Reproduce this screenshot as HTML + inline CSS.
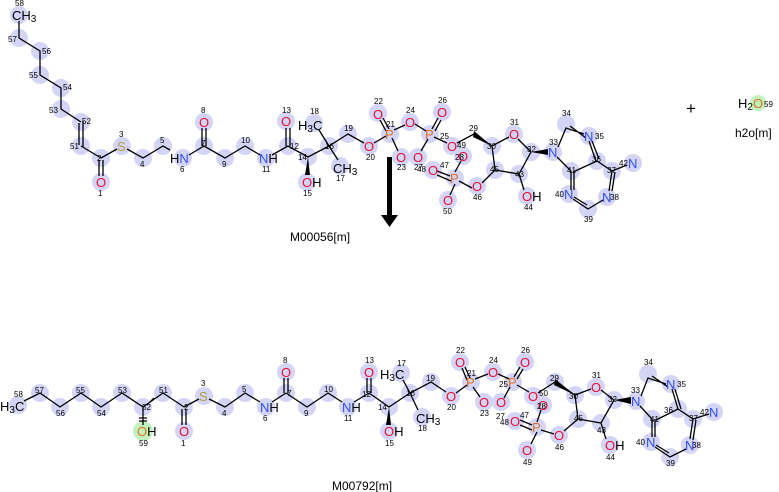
<!DOCTYPE html>
<html><head><meta charset="utf-8"><style>
html,body{margin:0;padding:0;background:#fff;}
svg{display:block;font-family:"Liberation Sans","DejaVu Sans",sans-serif;}
.c{fill:#d4d4f7;}
.g{fill:#c2f2bd;}
.b{stroke:#000;stroke-width:1.3;fill:none;}
.O{fill:#e8102f;font-size:13px;}
.N{fill:#3050f8;font-size:13px;}
.S{fill:#b0a040;font-size:13px;}
.P{fill:#e07020;font-size:13px;}
.K{fill:#000;font-size:13px;}
.n{fill:#000;font-size:8px;}
.m{fill:#000;font-size:8px;}
.l{fill:#000;font-size:12px;}
</style></head><body>
<svg width="779" height="492" viewBox="0 0 779 492" xmlns="http://www.w3.org/2000/svg">
<!-- TOP circles -->
<g class="c">
<circle cx="19" cy="15" r="9"/><circle cx="19" cy="38" r="9"/><circle cx="40" cy="51" r="9"/><circle cx="40" cy="75" r="9"/>
<circle cx="61" cy="88" r="9"/><circle cx="61" cy="109" r="9"/><circle cx="81" cy="122" r="9"/><circle cx="81" cy="146" r="9"/>
<circle cx="101" cy="158" r="9"/><circle cx="101" cy="182" r="9"/><circle cx="122" cy="146" r="9"/><circle cx="143" cy="158" r="9"/>
<circle cx="163" cy="146" r="9"/><circle cx="183" cy="158" r="9"/><circle cx="204" cy="122" r="9"/><circle cx="225" cy="158" r="9"/>
<circle cx="245" cy="146" r="9"/><circle cx="266" cy="158" r="9"/><circle cx="286" cy="121" r="9"/><circle cx="288" cy="146" r="9"/>
<circle cx="308" cy="157" r="9"/><circle cx="307" cy="182" r="9"/><circle cx="329" cy="146" r="9"/><circle cx="314" cy="123" r="9"/>
<circle cx="340" cy="166" r="9"/><circle cx="348" cy="134" r="9"/><circle cx="369" cy="146" r="9"/><circle cx="378" cy="113" r="9"/>
<circle cx="390" cy="134" r="9"/><circle cx="401" cy="157" r="9"/><circle cx="410" cy="122" r="9"/><circle cx="430" cy="134" r="9"/>
<circle cx="442" cy="112" r="9"/><circle cx="418" cy="157" r="9"/><circle cx="452" cy="146" r="9"/><circle cx="463" cy="156" r="9"/>
<circle cx="433" cy="170" r="9"/><circle cx="455" cy="178" r="9"/><circle cx="448" cy="200" r="9"/><circle cx="477" cy="186" r="9"/>
<circle cx="492" cy="146" r="9"/><circle cx="514" cy="134" r="9"/><circle cx="531" cy="152" r="9"/><circle cx="495" cy="170" r="9"/>
<circle cx="519" cy="174" r="9"/><circle cx="527" cy="196" r="9"/><circle cx="553" cy="152" r="9"/><circle cx="566" cy="124" r="9"/>
<circle cx="589" cy="136" r="9"/><circle cx="597" cy="161" r="9"/><circle cx="571" cy="171" r="9"/><circle cx="612" cy="171" r="9"/>
<circle cx="633" cy="163" r="9"/><circle cx="607" cy="197" r="9"/><circle cx="588" cy="209" r="9"/><circle cx="569" cy="194" r="9"/>
<circle cx="204" cy="146" r="9"/>
</g>
<path class="b" d="M19 21L19 38L40 51L40 75L61 88L61 109L81 122M79 123L79 145M83 121L83 147M81 146L101 158M99 160L99 176M103 160L103 176M101 158L117 149M127 149L143 158L163 146L170 150M189 155L204 146L225 158L245 146L260 155M202 146L202 128M206 146L206 128M272 155L288 146M286 146L286 128M290 146L290 128M288 146L308 157L329 146L348 134L364 143M329 146L319 130M329 146L338 160M374 143L386 136M386 131L380 120M389 129L383 118M392 138L398 151M394 130L405 125M415 124L426 131M432 129L438 118M435 131L441 120M428 139L421 151M434 137L447 143M457 143L474 134L492 146L509 137M518 139L531 152L519 174L495 170L492 146M519 174L524 190M495 170L482 183M472 188L459 181M455 172L461 161M450 176L437 171M451 181L437 175M455 184L450 195M536 152L548 152M558 147L566 128L584 134M570 126L586 138M589 141L596 161M592 141L599 159M597 161L573 172M557 157L571 171M571 171L571 190M574 171L574 190M597 161L612 171L627 165M612 171L609 191M615 172L612 191M603 200L588 209L573 199M587 205L574 197"/>
<polygon points="492,146 474,131 473,137" fill="#000"/>
<polygon points="308,157 305,175 310,175" fill="#000"/>
<polygon points="531,152 548,149 548,155" fill="#000"/>
<!-- top text -->
<text x="12" y="20" class="K">CH<tspan font-size="10" dy="2">3</tspan></text>
<text x="96" y="187" class="O">O</text><text x="117" y="151" class="S">S</text>
<text x="170" y="163" class="K">H<tspan fill="#3050f8">N</tspan></text>
<text x="199" y="127" class="O">O</text><text x="259" y="163" class="N">N<tspan fill="#000">H</tspan></text>
<text x="281" y="126" class="O">O</text><text x="302" y="187" class="O">O<tspan fill="#000">H</tspan></text>
<text x="298" y="130" class="K">H<tspan font-size="10" dy="2">3</tspan><tspan dy="-2">C</tspan></text>
<text x="333" y="173" class="K">CH<tspan font-size="10" dy="2">3</tspan></text>
<text x="364" y="151" class="O">O</text><text x="385" y="139" class="P">P</text><text x="373" y="119" class="O">O</text>
<text x="396" y="162" class="O">O</text><text x="405" y="127" class="O">O</text><text x="425" y="139" class="P">P</text>
<text x="437" y="117" class="O">O</text><text x="413" y="162" class="O">O</text><text x="447" y="151" class="O">O</text>
<text x="458" y="161" class="O">O</text><text x="428" y="175" class="O">O</text><text x="450" y="183" class="P">P</text>
<text x="443" y="205" class="O">O</text><text x="472" y="191" class="O">O</text><text x="509" y="139" class="O">O</text>
<text x="522" y="201" class="O">O<tspan fill="#000">H</tspan></text>
<text x="548" y="157" class="N">N</text><text x="584" y="141" class="N">N</text><text x="628" y="168" class="N">N</text>
<text x="602" y="202" class="N">N</text><text x="564" y="199" class="N">N</text>
<g class="n">
<text x="15" y="6">58</text><text x="8" y="42">57</text><text x="42" y="54">56</text><text x="29" y="78">55</text>
<text x="63" y="90">54</text><text x="49" y="113">53</text><text x="82" y="124">52</text><text x="70" y="149">51</text>
<text x="97" y="161">2</text><text x="98" y="196">1</text><text x="119" y="137">3</text><text x="140" y="167">4</text>
<text x="160" y="143">5</text><text x="180" y="172">6</text><text x="201" y="113">8</text><text x="201" y="146">7</text>
<text x="222" y="167">9</text><text x="241" y="143">10</text><text x="262" y="172">11</text><text x="282" y="113">13</text>
<text x="290" y="149">12</text><text x="298" y="160">14</text><text x="303" y="196">15</text><text x="310" y="114">18</text>
<text x="325" y="149">16</text><text x="336" y="181">17</text><text x="344" y="131">19</text><text x="366" y="160">20</text>
<text x="374" y="104">22</text><text x="386" y="127">21</text><text x="397" y="170">23</text><text x="406" y="113">24</text>
<text x="438" y="103">26</text><text x="440" y="139">25</text><text x="414" y="170">27</text><text x="457" y="148">49</text>
<text x="455" y="160">28</text><text x="417" y="172">48</text><text x="440" y="168">47</text><text x="443" y="214">50</text>
<text x="473" y="200">46</text><text x="469" y="131">29</text><text x="487" y="149">30</text><text x="510" y="125">31</text>
<text x="527" y="152">32</text><text x="490" y="172">45</text><text x="515" y="177">43</text><text x="524" y="210">44</text>
<text x="549" y="145">33</text><text x="562" y="116">34</text><text x="595" y="139">35</text><text x="592" y="162">36</text>
<text x="567" y="173">41</text><text x="607" y="173">37</text><text x="619" y="166">42</text><text x="610" y="200">38</text>
<text x="584" y="222">39</text><text x="555" y="197">40</text>
</g>
<!-- arrow -->
<rect x="387" y="157" width="5" height="59" fill="#000"/>
<polygon points="381,215 398,215 389.5,227" fill="#000"/>
<text x="290" y="241" class="l">M00056[m]</text>
<text x="686" y="114" font-size="17" fill="#000">+</text>
<circle cx="758" cy="103" r="8" class="g"/>
<text x="738" y="108" class="K">H<tspan font-size="10" dy="2">2</tspan><tspan dy="-2" fill="#e07020">O</tspan></text>
<text x="764" y="107" class="m">59</text>
<text x="735" y="137" class="l">h2o[m]</text>

<!-- BOTTOM -->
<g class="c">
<circle cx="18" cy="405" r="9"/><circle cx="40" cy="393" r="9"/><circle cx="60" cy="407" r="9"/><circle cx="81" cy="393" r="9"/>
<circle cx="101" cy="407" r="9"/><circle cx="122" cy="393" r="9"/><circle cx="143" cy="407" r="9"/><circle cx="163" cy="393" r="9"/>
<circle cx="184" cy="407" r="9"/><circle cx="184" cy="431" r="9"/><circle cx="204" cy="396" r="9"/><circle cx="225" cy="407" r="9"/>
<circle cx="245" cy="393" r="9"/><circle cx="266" cy="407" r="9"/><circle cx="286" cy="372" r="9"/><circle cx="307" cy="407" r="9"/>
<circle cx="328" cy="393" r="9"/><circle cx="348" cy="407" r="9"/><circle cx="369" cy="372" r="9"/><circle cx="369" cy="393" r="9"/>
<circle cx="389" cy="407" r="9"/><circle cx="389" cy="431" r="9"/><circle cx="410" cy="393" r="9"/><circle cx="401" cy="373" r="9"/>
<circle cx="422" cy="417" r="9"/><circle cx="431" cy="382" r="9"/><circle cx="451" cy="396" r="9"/><circle cx="460" cy="362" r="9"/>
<circle cx="471" cy="382" r="9"/><circle cx="484" cy="402" r="9"/><circle cx="493" cy="372" r="9"/><circle cx="513" cy="382" r="9"/>
<circle cx="525" cy="362" r="9"/><circle cx="501" cy="402" r="9"/><circle cx="533" cy="396" r="9"/><circle cx="543" cy="405" r="9"/>
<circle cx="515" cy="421" r="9"/><circle cx="537" cy="427" r="9"/><circle cx="527" cy="450" r="9"/><circle cx="559" cy="435" r="9"/>
<circle cx="555" cy="382" r="9"/><circle cx="575" cy="395" r="9"/><circle cx="596" cy="387" r="9"/><circle cx="614" cy="400" r="9"/>
<circle cx="578" cy="419" r="9"/><circle cx="601" cy="423" r="9"/><circle cx="610" cy="445" r="9"/><circle cx="636" cy="401" r="9"/>
<circle cx="648" cy="374" r="9"/><circle cx="671" cy="384" r="9"/><circle cx="678" cy="409" r="9"/><circle cx="652" cy="419" r="9"/>
<circle cx="693" cy="419" r="9"/><circle cx="714" cy="412" r="9"/><circle cx="690" cy="445" r="9"/><circle cx="670" cy="457" r="9"/>
<circle cx="651" cy="442" r="9"/><circle cx="286" cy="393" r="9"/>
</g>
<circle cx="143" cy="431" r="10" class="g"/>
<path class="b" d="M24 401L40 393L60 407L81 393L101 407L122 393L143 407L163 393L184 407M182 409L182 425M186 409L186 425M184 407L199 399M209 399L225 407L245 393L260 402M272 402L286 393M284 393L284 378M288 393L288 378M286 393L307 407L328 393L342 402M354 402L369 393M367 393L367 378M371 393L371 378M369 393L389 407L410 393L431 382L446 392M410 393L403 380M410 393L418 410M143 407L143 425M139 418L147 418M139 421L147 421M154 398L150 402M456 393L467 385M467 380L462 368M470 378L465 367M473 387L480 397M475 379L488 374M498 374L509 379M514 377L520 367M517 379L523 369M510 387L504 398M517 385L529 392M538 393L555 382L575 395L591 389M601 390L614 400L601 423L578 419L575 395M601 423L606 439M578 419L564 431M554 434L541 430M537 422L541 410M532 425L520 420M532 430L520 425M537 432L531 444M619 400L631 401M641 396L648 378L666 384M652 376L668 387M672 389L678 409M675 389L681 409M678 409L656 420M640 406L652 419M652 419L652 437M655 419L655 437M678 409L693 419L709 414M693 419L690 439M696 420L693 440M686 449L670 457L655 447M669 453L656 445"/>
<polygon points="575,395 555,379 554,385" fill="#000"/>
<polygon points="389,407 386,425 391,425" fill="#000"/>
<polygon points="614,400 631,397 631,404" fill="#000"/>
<text x="0" y="411" class="K">H<tspan font-size="10" dy="2">3</tspan><tspan dy="-2">C</tspan></text>
<text x="137" y="436" fill="#e07020" font-size="13">O<tspan fill="#000">H</tspan></text>
<text x="179" y="436" class="O">O</text><text x="199" y="401" class="S">S</text>
<text x="260" y="412" class="N">N<tspan fill="#000">H</tspan></text>
<text x="281" y="377" class="O">O</text><text x="342" y="412" class="N">N<tspan fill="#000">H</tspan></text>
<text x="364" y="377" class="O">O</text><text x="384" y="436" class="O">O<tspan fill="#000">H</tspan></text>
<text x="380" y="379" class="K">H<tspan font-size="10" dy="2">3</tspan><tspan dy="-2">C</tspan></text>
<text x="416" y="423" class="K">CH<tspan font-size="10" dy="2">3</tspan></text>
<text x="446" y="401" class="O">O</text><text x="466" y="387" class="P">P</text><text x="455" y="367" class="O">O</text>
<text x="479" y="407" class="O">O</text><text x="488" y="377" class="O">O</text><text x="508" y="387" class="P">P</text>
<text x="520" y="367" class="O">O</text><text x="496" y="407" class="O">O</text><text x="528" y="401" class="O">O</text>
<text x="538" y="410" class="O">O</text><text x="510" y="426" class="O">O</text><text x="532" y="432" class="P">P</text>
<text x="522" y="455" class="O">O</text><text x="554" y="440" class="O">O</text><text x="591" y="392" class="O">O</text>
<text x="605" y="450" class="O">O<tspan fill="#000">H</tspan></text>
<text x="631" y="406" class="N">N</text><text x="666" y="389" class="N">N</text><text x="709" y="417" class="N">N</text>
<text x="685" y="450" class="N">N</text><text x="646" y="447" class="N">N</text>
<g class="n">
<text x="14" y="397">58</text><text x="35" y="393">57</text><text x="56" y="416">56</text><text x="76" y="393">55</text>
<text x="97" y="416">54</text><text x="118" y="393">53</text><text x="142" y="410">52</text><text x="159" y="393">51</text>
<text x="139" y="446">59</text><text x="184" y="410">2</text><text x="181" y="446">1</text><text x="201" y="386">3</text>
<text x="222" y="416">4</text><text x="242" y="392">5</text><text x="263" y="421">6</text><text x="283" y="363">8</text>
<text x="287" y="396">7</text><text x="304" y="416">9</text><text x="324" y="392">10</text><text x="344" y="421">11</text>
<text x="365" y="363">13</text><text x="362" y="397">12</text><text x="378" y="410">14</text><text x="385" y="446">15</text>
<text x="397" y="366">17</text><text x="406" y="396">16</text><text x="418" y="431">18</text><text x="426" y="381">19</text>
<text x="447" y="410">20</text><text x="456" y="353">22</text><text x="467" y="376">21</text><text x="480" y="416">23</text>
<text x="489" y="363">24</text><text x="521" y="353">26</text><text x="499" y="387">25</text><text x="496" y="419">27</text>
<text x="539" y="396">50</text><text x="537" y="409">28</text><text x="500" y="425">48</text><text x="520" y="418">47</text>
<text x="523" y="465">49</text><text x="555" y="450">46</text><text x="550" y="381">29</text><text x="569" y="399">30</text>
<text x="592" y="378">31</text><text x="608" y="402">32</text><text x="574" y="421">45</text><text x="597" y="433">43</text>
<text x="606" y="460">44</text><text x="631" y="393">33</text><text x="644" y="365">34</text><text x="677" y="387">35</text>
<text x="664" y="413">36</text><text x="650" y="422">41</text><text x="689" y="421">37</text><text x="700" y="415">42</text>
<text x="692" y="448">38</text><text x="666" y="466">39</text><text x="636" y="445">40</text>
</g>
<text x="332" y="490" class="l">M00792[m]</text>
</svg>
</body></html>
